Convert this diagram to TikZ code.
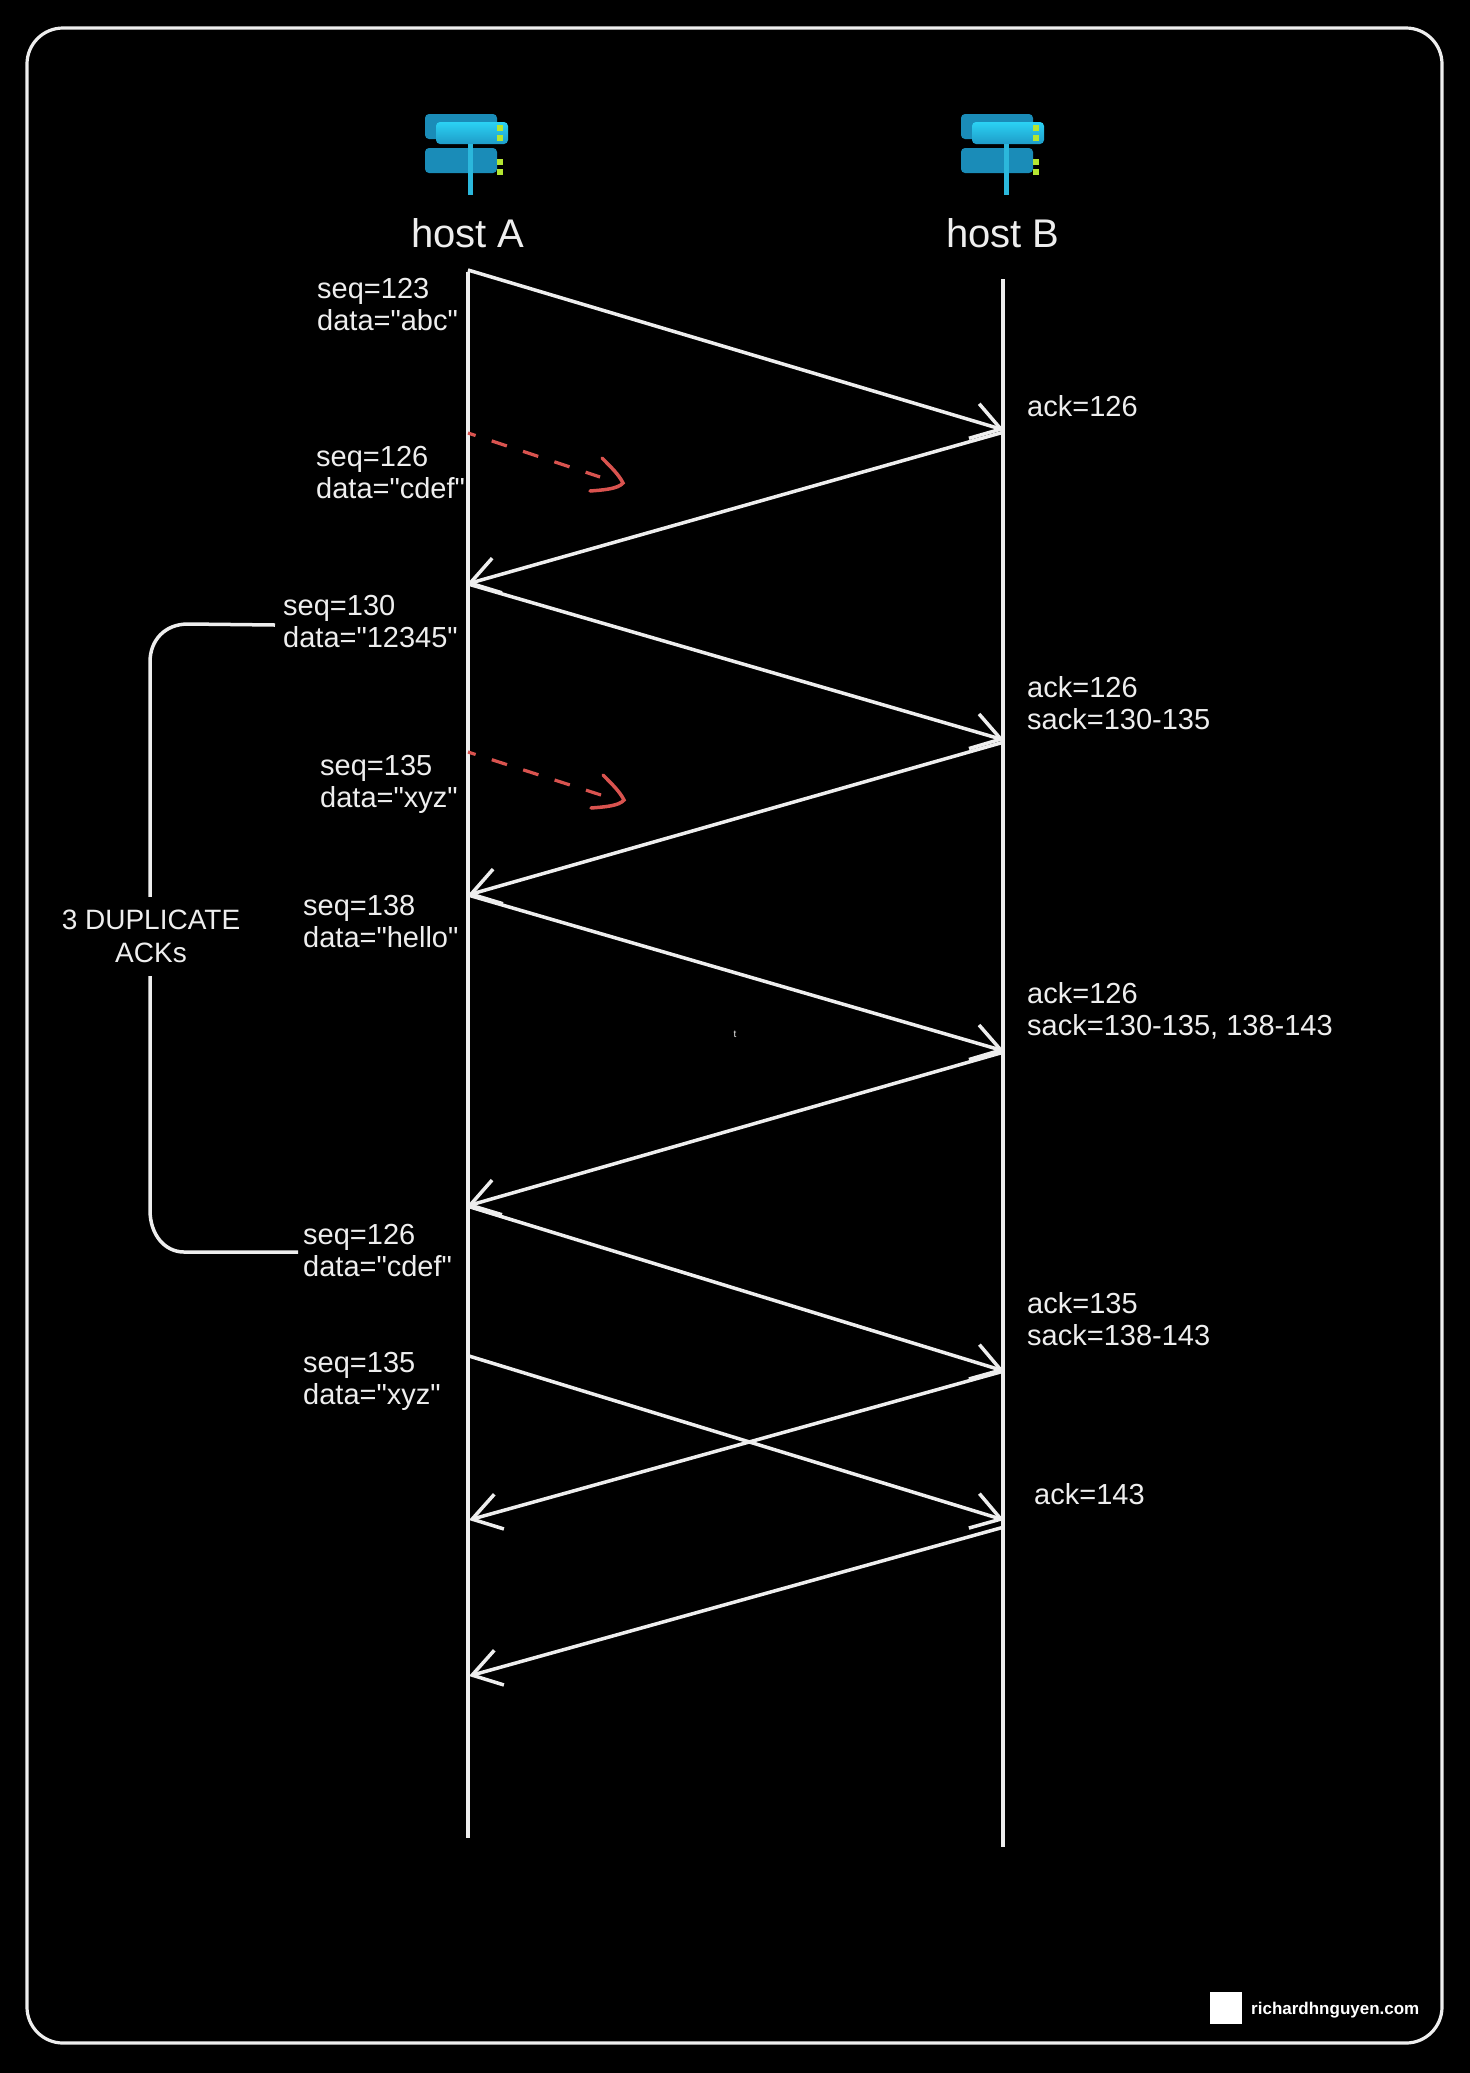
\documentclass[tikz,border=0pt]{standalone}
\usepackage{fontspec}
\setmainfont{Liberation Sans}[Ligatures=TeXOff]
\usetikzlibrary{arrows.meta}

\definecolor{lostred}{HTML}{D9534F}
\definecolor{srvback}{HTML}{1A8CB8}
\definecolor{srvtop}{HTML}{2BD2F4}
\definecolor{srvbottom}{HTML}{1E9CC8}
\definecolor{srvstem}{HTML}{2BB8DC}
\definecolor{srvled}{HTML}{B4E632}
\definecolor{inktext}{HTML}{EEEEEE}

\tikzset{
  lifeline/.style={draw=inktext, line width=3.2pt},
  msg/.style={draw=inktext, line width=3.5pt, -{Straight Barb[length=28pt, width=36pt]}},
  lost/.style={draw=lostred, line width=3.2pt, dash pattern=on 16pt off 17pt, dash phase=8pt},
  losthead/.style={draw=lostred, line width=3.5pt, line cap=round},
  brace/.style={draw=inktext, line width=3.5pt},
  lbl/.style={anchor=west, align=left, text=inktext, inner sep=0pt, font=\fontsize{29}{32}\selectfont},
  hostlbl/.style={text=inktext, inner sep=0pt, font=\fontsize{40}{44}\selectfont},
  serverIcon/.pic={
    \fill[srvback, rounded corners=4pt] (-43, -30) rectangle (29, -5);
    \shade[top color=srvtop, bottom color=srvbottom, rounded corners=4pt] (-32, -22) rectangle (40, 0);
    \fill[srvback, rounded corners=4pt] (-43, 4) rectangle (29, 29);
    \fill[srvled] (29, -19) rectangle (35, -13);
    \fill[srvled] (29, -9) rectangle (35, -3);
    \fill[srvled] (29, 15) rectangle (35, 21);
    \fill[srvled] (29, 25) rectangle (35, 31);
    \fill[srvstem] (0, 0) rectangle (5, 51);
  },
  lostTip/.pic={
    \draw[losthead] (-21, -25) .. controls (-11, -15) and (-4, -8) .. (0, 0) .. controls (-5, 6) and (-20, 7) .. (-33, 8);
  },
}

\begin{document}
\begin{tikzpicture}[x=1pt, y=-1pt]
  \path[use as bounding box, fill=black] (0, 0) rectangle (1470, 2073);

  \draw[draw=inktext, line width=3.2pt, rounded corners=36pt] (27, 28) rectangle (1442, 2043);

  \pic at (468, 144) {serverIcon};
  \pic at (1004, 144) {serverIcon};
  \node[hostlbl] (hostA) at (468, 233) {host A};
  \node[hostlbl] (hostB) at (1003, 233) {host B};

  \coordinate (aTop) at (468, 272);
  \coordinate (aEnd) at (468, 1838);
  \coordinate (bTop) at (1003, 279);
  \coordinate (bEnd) at (1003, 1847);
  \draw[lifeline] (aTop) -- (aEnd);
  \draw[lifeline] (bTop) -- (bEnd);

  \coordinate (a1) at (468, 270);
  \coordinate (b1) at (1004, 430);
  \coordinate (b2) at (1004, 432);
  \coordinate (a2) at (467, 584);
  \coordinate (a3) at (468, 584);
  \coordinate (b3) at (1004, 740);
  \coordinate (b4) at (1004, 742);
  \coordinate (a4) at (468, 895);
  \coordinate (a5) at (468, 895);
  \coordinate (b5) at (1004, 1051);
  \coordinate (b6) at (1004, 1052);
  \coordinate (a6) at (467, 1206);
  \coordinate (a7) at (467, 1206);
  \coordinate (b7) at (1004, 1371);
  \coordinate (b8) at (1004, 1371);
  \coordinate (a8) at (469, 1520);
  \coordinate (a9) at (469, 1356);
  \coordinate (b9) at (1004, 1520);
  \coordinate (b10) at (1004, 1527);
  \coordinate (a10) at (469, 1676);

  \draw[msg] (a1) -- (b1);
  \draw[msg] (b2) -- (a2);
  \draw[msg] (a3) -- (b3);
  \draw[msg] (b4) -- (a4);
  \draw[msg] (a5) -- (b5);
  \draw[msg] (b6) -- (a6);
  \draw[msg] (a7) -- (b7);
  \draw[msg] (b8) -- (a8);
  \draw[msg] (a9) -- (b9);
  \draw[msg] (b10) -- (a10);

  \coordinate (lostA) at (468, 433);
  \coordinate (lostB) at (600, 477);
  \coordinate (lostC) at (468, 752);
  \coordinate (lostD) at (601, 795);
  \draw[lost] (lostA) -- (lostB);
  \draw[lost] (lostC) -- (lostD);
  \pic at (623, 483) {lostTip};
  \pic at (624, 800) {lostTip};

  \node[lbl] (seqOne) at (317, 305) {seq=123\\data="abc"};
  \node[lbl] (seqTwo) at (316, 473) {seq=126\\data="cdef"};
  \node[lbl] (seqThree) at (283, 622) {seq=130\\data="12345"};
  \node[lbl] (seqFour) at (320, 784) {seq=135\\data="xyz"};
  \node[lbl] (seqFive) at (303, 922) {seq=138\\data="hello"};
  \node[lbl] (seqSix) at (303, 1250) {seq=126\\data="cdef"};
  \node[lbl] (seqSeven) at (303, 1381) {seq=135\\data="xyz"};

  \node[lbl] (ackOne) at (1027, 406) {ack=126};
  \node[lbl] (ackTwo) at (1027, 703) {ack=126\\sack=130-135};
  \node[lbl] (ackThree) at (1027, 1011) {ack=126\\sack=130-135, 138-143};
  \node[lbl] (ackFour) at (1027, 1319) {ack=135\\sack=138-143};
  \node[lbl] (ackFive) at (1034, 1494) {ack=143};

  \coordinate (braceTop) at (275, 625);
  \coordinate (braceBot) at (298, 1252);
  \draw[brace] (braceTop) -- (188, 624) .. controls (165, 624) and (150, 640) .. (150, 662) -- (150, 1210) .. controls (150, 1235) and (165, 1252) .. (184, 1252) -- (braceBot);
  \node[fill=black, text=inktext, align=center, inner xsep=0pt, inner ysep=0pt, minimum height=79pt, font=\fontsize{28}{33}\selectfont] (dupAcks) at (151, 936) {3 DUPLICATE\\ACKs};

  \node[text=inktext, inner sep=0pt, font=\fontsize{10}{12}\selectfont] (stray) at (735, 1034) {t};

  \node[fill=white, inner sep=0pt, minimum size=32pt] (logo) at (1226, 2008) {};
  \node[anchor=west, text=white, inner sep=0pt, font=\fontsize{17}{20}\selectfont\bfseries] (site) at (1251, 2010) {richardhnguyen.com};
\end{tikzpicture}
\end{document}
